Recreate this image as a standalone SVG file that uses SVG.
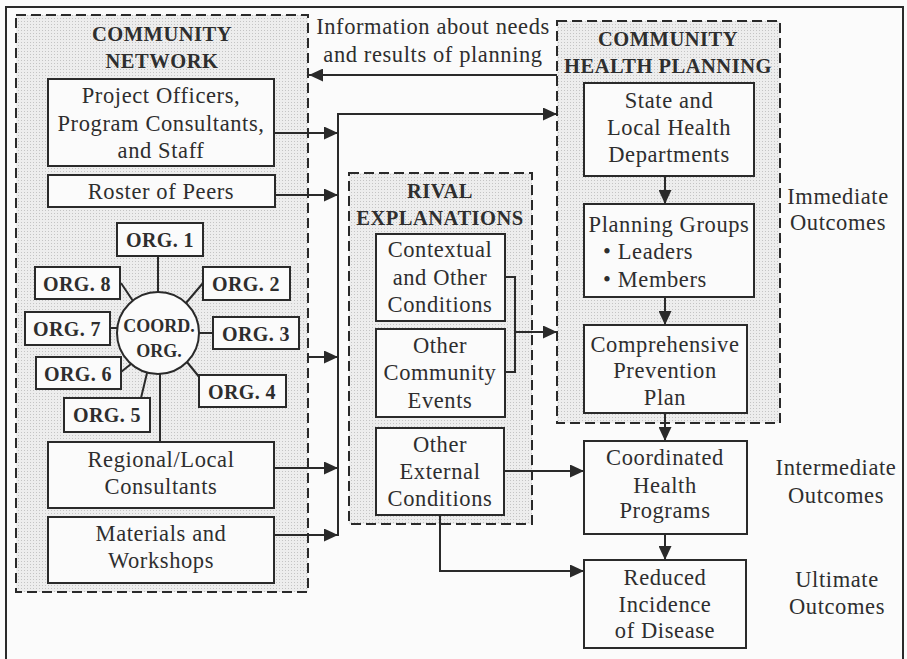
<svg xmlns="http://www.w3.org/2000/svg" width="907" height="659" viewBox="0 0 907 659" font-family="Liberation Serif, Times New Roman, serif">
<defs>
<pattern id="dots" width="3" height="3" patternUnits="userSpaceOnUse"><rect width="3" height="3" fill="#ededed"/><rect width="1" height="1" fill="#c4c4c4"/></pattern>
<marker id="ah" markerUnits="userSpaceOnUse" markerWidth="15" markerHeight="13" refX="14" refY="6.5" orient="auto"><path d="M0,0 L14,6.5 L0,13 z" fill="#2a2a2a"/></marker>
</defs>
<style>
.grp{fill:url(#dots);stroke:#2a2a2a;stroke-width:2;stroke-dasharray:10 5}
.box{fill:#fbfbfb;stroke:#2a2a2a;stroke-width:2}
.ln{fill:none;stroke:#2a2a2a;stroke-width:2}
.arr{fill:none;stroke:#2a2a2a;stroke-width:2;marker-end:url(#ah)}
text{fill:#2e2e2e;font-size:22.5px;letter-spacing:0.6px;text-anchor:middle}
.t{font-weight:bold;font-size:20.5px;letter-spacing:0.5px}
.o{font-weight:bold;font-size:20px;letter-spacing:0.4px}
.c{font-weight:bold;font-size:18px;letter-spacing:0px}
.l{text-anchor:start}
</style>
<rect x="0" y="0" width="907" height="659" fill="#fbfbfb"/>
<rect x="6" y="7" width="897" height="660" fill="none" stroke="#2a2a2a" stroke-width="2"/>

<g id="community-network">
<rect class="grp" x="16" y="15" width="292" height="577"/>
<text class="t" x="162" y="41">COMMUNITY</text>
<text class="t" x="162" y="68">NETWORK</text>
</g>
<g id="project-officers">
<rect class="box" x="48" y="79" width="226" height="87"/>
<text x="161" y="103">Project Officers,</text>
<text x="161" y="131">Program Consultants,</text>
<text x="161" y="158">and Staff</text>
</g>
<g id="roster">
<rect class="box" x="48" y="175" width="227" height="32"/>
<text x="161" y="199">Roster of Peers</text>
</g>
<g id="org-lines">
<path class="ln" d="M158,256 V292 M203,283 L186,303 M199,333 H213 M187,362 L200,378 M147,373 L141,398 M121,372 L131,364 M110,328 H118 M121,283 L133,301 M160,374 V442"/>
</g>
<g id="coord-org">
<circle class="box" cx="158" cy="333" r="41"/>
<text class="c" x="159" y="332">COORD.</text>
<text class="c" x="159" y="357">ORG.</text>
</g>
<g id="org1"><rect class="box" x="117" y="223" width="86" height="33"/><text class="o" x="160" y="247">ORG. 1</text></g>
<g id="org2"><rect class="box" x="203" y="267" width="87" height="33"/><text class="o" x="246" y="291">ORG. 2</text></g>
<g id="org3"><rect class="box" x="213" y="317" width="86" height="32"/><text class="o" x="256" y="341">ORG. 3</text></g>
<g id="org4"><rect class="box" x="199" y="375" width="87" height="32"/><text class="o" x="242" y="399">ORG. 4</text></g>
<g id="org5"><rect class="box" x="64" y="398" width="86" height="34"/><text class="o" x="107" y="422">ORG. 5</text></g>
<g id="org6"><rect class="box" x="36" y="357" width="85" height="32"/><text class="o" x="78" y="381">ORG. 6</text></g>
<g id="org7"><rect class="box" x="25" y="312" width="85" height="33"/><text class="o" x="67" y="336">ORG. 7</text></g>
<g id="org8"><rect class="box" x="35" y="267" width="85" height="32"/><text class="o" x="77" y="291">ORG. 8</text></g>
<g id="regional">
<rect class="box" x="48" y="442" width="226" height="66"/>
<text x="161" y="467">Regional/Local</text>
<text x="161" y="494">Consultants</text>
</g>
<g id="materials">
<rect class="box" x="48" y="517" width="226" height="66"/>
<text x="161" y="541">Materials and</text>
<text x="161" y="568">Workshops</text>
</g>

<g id="info-label">
<text x="433" y="34">Information about needs</text>
<text x="433" y="62">and results of planning</text>
</g>

<g id="rival-explanations">
<rect class="grp" x="349" y="173" width="183" height="351"/>
<text class="t" x="440" y="198">RIVAL</text>
<text class="t" x="440" y="225">EXPLANATIONS</text>
</g>
<g id="contextual">
<rect class="box" x="376" y="234" width="129" height="87"/>
<text x="440" y="257">Contextual</text>
<text x="440" y="285">and Other</text>
<text x="440" y="312">Conditions</text>
</g>
<g id="other-community">
<rect class="box" x="376" y="329" width="129" height="88"/>
<text x="440" y="353">Other</text>
<text x="440" y="380">Community</text>
<text x="440" y="408">Events</text>
</g>
<g id="other-external">
<rect class="box" x="376" y="428" width="128" height="87"/>
<text x="440" y="452">Other</text>
<text x="440" y="479">External</text>
<text x="440" y="506">Conditions</text>
</g>

<g id="community-health-planning">
<rect class="grp" x="557" y="21" width="223" height="402"/>
<text class="t" x="668" y="46">COMMUNITY</text>
<text class="t" x="668" y="73">HEALTH PLANNING</text>
</g>
<g id="state-local">
<rect class="box" x="584" y="83" width="170" height="93"/>
<text x="669" y="108">State and</text>
<text x="669" y="135">Local Health</text>
<text x="669" y="162">Departments</text>
</g>
<g id="planning-groups">
<rect class="box" x="584" y="204" width="170" height="93"/>
<text x="669" y="232">Planning Groups</text>
<text class="l" x="603" y="259">• Leaders</text>
<text class="l" x="603" y="287">• Members</text>
</g>
<g id="comprehensive">
<rect class="box" x="584" y="325" width="163" height="88"/>
<text x="665" y="352">Comprehensive</text>
<text x="665" y="378">Prevention</text>
<text x="665" y="405">Plan</text>
</g>
<g id="coordinated">
<rect class="box" x="584" y="441" width="163" height="93"/>
<text x="665" y="465">Coordinated</text>
<text x="665" y="493">Health</text>
<text x="665" y="518">Programs</text>
</g>
<g id="reduced">
<rect class="box" x="584" y="560" width="162" height="88"/>
<text x="665" y="585">Reduced</text>
<text x="665" y="612">Incidence</text>
<text x="665" y="638">of Disease</text>
</g>

<g id="outcome-labels">
<text x="838" y="204">Immediate</text>
<text x="838" y="230">Outcomes</text>
<text x="836" y="475">Intermediate</text>
<text x="836" y="503">Outcomes</text>
<text x="837" y="587">Ultimate</text>
<text x="837" y="614">Outcomes</text>
</g>

<g id="connectors">
<path class="arr" d="M557,75 H309"/>
<path class="arr" d="M338,536 V114 H557"/>
<path class="arr" d="M274,133 H338"/>
<path class="arr" d="M275,195 H338"/>
<path class="arr" d="M308,357 H338"/>
<path class="arr" d="M274,468 H338"/>
<path class="arr" d="M274,535 H338"/>
<path class="ln" d="M505,277 H515 V372 H505"/>
<path class="arr" d="M515,332 H557"/>
<path class="arr" d="M504,471 H584"/>
<path class="arr" d="M440,515 V571 H584"/>
<path class="arr" d="M665,176 V204"/>
<path class="arr" d="M665,297 V325"/>
<path class="arr" d="M665,413 V441"/>
<path class="arr" d="M665,534 V560"/>
</g>
</svg>
